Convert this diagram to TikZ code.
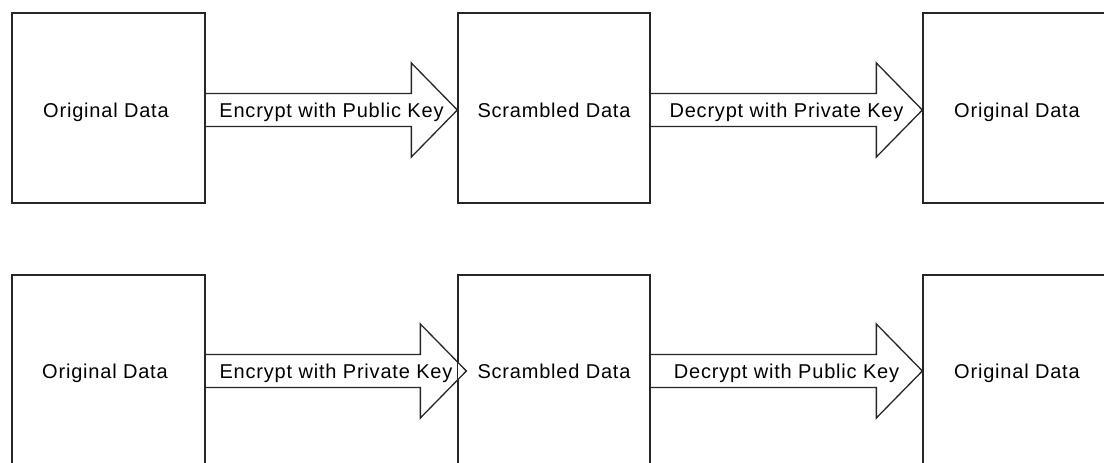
\documentclass[tikz,border=0pt]{standalone}
\usepackage{fontspec}
\setmainfont{Liberation Sans}[LetterSpace=4]
\usetikzlibrary{calc}
\begin{document}
\begin{tikzpicture}[x=1pt,y=-1pt,
  box/.style={draw=black!85, line width=1.3pt, minimum width=193pt, inner sep=0pt},
  bigarrow/.style={draw=black!85, line width=1.3pt, fill=white, line join=miter},
  lbl/.style={font=\fontsize{20}{22}\selectfont, inner sep=0pt, anchor=base}]
\useasboundingbox (0,0) rectangle (1104,463);
\clip (0,0) rectangle (1104,463);

% boxes (top row fully visible, bottom row and right column run off the page)
\node[box, minimum height=190pt] (a1) at (108.5,108) {};
\node[box, minimum height=190pt, minimum width=192pt] (a2) at (554,108) {};
\node[box, minimum height=190pt, minimum width=192pt] (a3) at (1019,108) {};
\node[box, minimum height=192pt] (c1) at (108.5,371) {};
\node[box, minimum height=192pt, minimum width=192pt] (c2) at (554,371) {};
\node[box, minimum height=192pt, minimum width=192pt] (c3) at (1019,371) {};

% arrow end points on the box edges
\coordinate (s1) at (a1.east |- 0,110);
\coordinate (t1) at (a2.west |- 0,110);
\coordinate (s2) at (a2.east |- 0,110);
\coordinate (t2) at (a3.west |- 0,110);
\coordinate (s3) at (c1.east |- 0,371);
\coordinate (t3) at ($(c2.west |- 0,371)+(9,0)$);
\coordinate (s4) at (c2.east |- 0,371);
\coordinate (t4) at (c3.west |- 0,371);

% block arrows
\foreach \s/\t in {s1/t1, s2/t2, s3/t3, s4/t4}{
  \draw[bigarrow] let \p1=(\s), \p2=(\t) in
    (\x1,\y1+16.5pt) -- (\x2-46pt,\y1+16.5pt) -- (\x2-46pt,\y1+47pt) -- (\x2,\y2)
    -- (\x2-46pt,\y1-47pt) -- (\x2-46pt,\y1-16.5pt) -- (\x1,\y1-16.5pt);
}

% boxes redrawn over the arrow shafts
\foreach \n in {a1,a2,a3,c1,c2,c3}{
  \draw[draw=black!85, line width=1.3pt] (\n.south west) rectangle (\n.north east);
}

% box texts
\node[lbl] (ta1) at (106,117) {Original Data};
\node[lbl] (ta2) at (554,117) {Scrambled Data};
\node[lbl] (ta3) at (1017,117) {Original Data};
\node[lbl] (tc1) at (105,378) {Original Data};
\node[lbl] (tc2) at (554,378) {Scrambled Data};
\node[lbl] (tc3) at (1017,378) {Original Data};

% arrow labels
\node[lbl] (l1) at ($(s1)!0.5!(t1)+(0,7)$) {Encrypt with Public Key};
\node[lbl] (l2) at ($(s2)!0.5!(t2)+(0,7)$) {Decrypt with Private Key};
\node[lbl] (l3) at ($(s3)!0.5!(t3)+(0,7)$) {Encrypt with Private Key};
\node[lbl] (l4) at ($(s4)!0.5!(t4)+(0,7)$) {Decrypt with Public Key};
\end{tikzpicture}
\end{document}
